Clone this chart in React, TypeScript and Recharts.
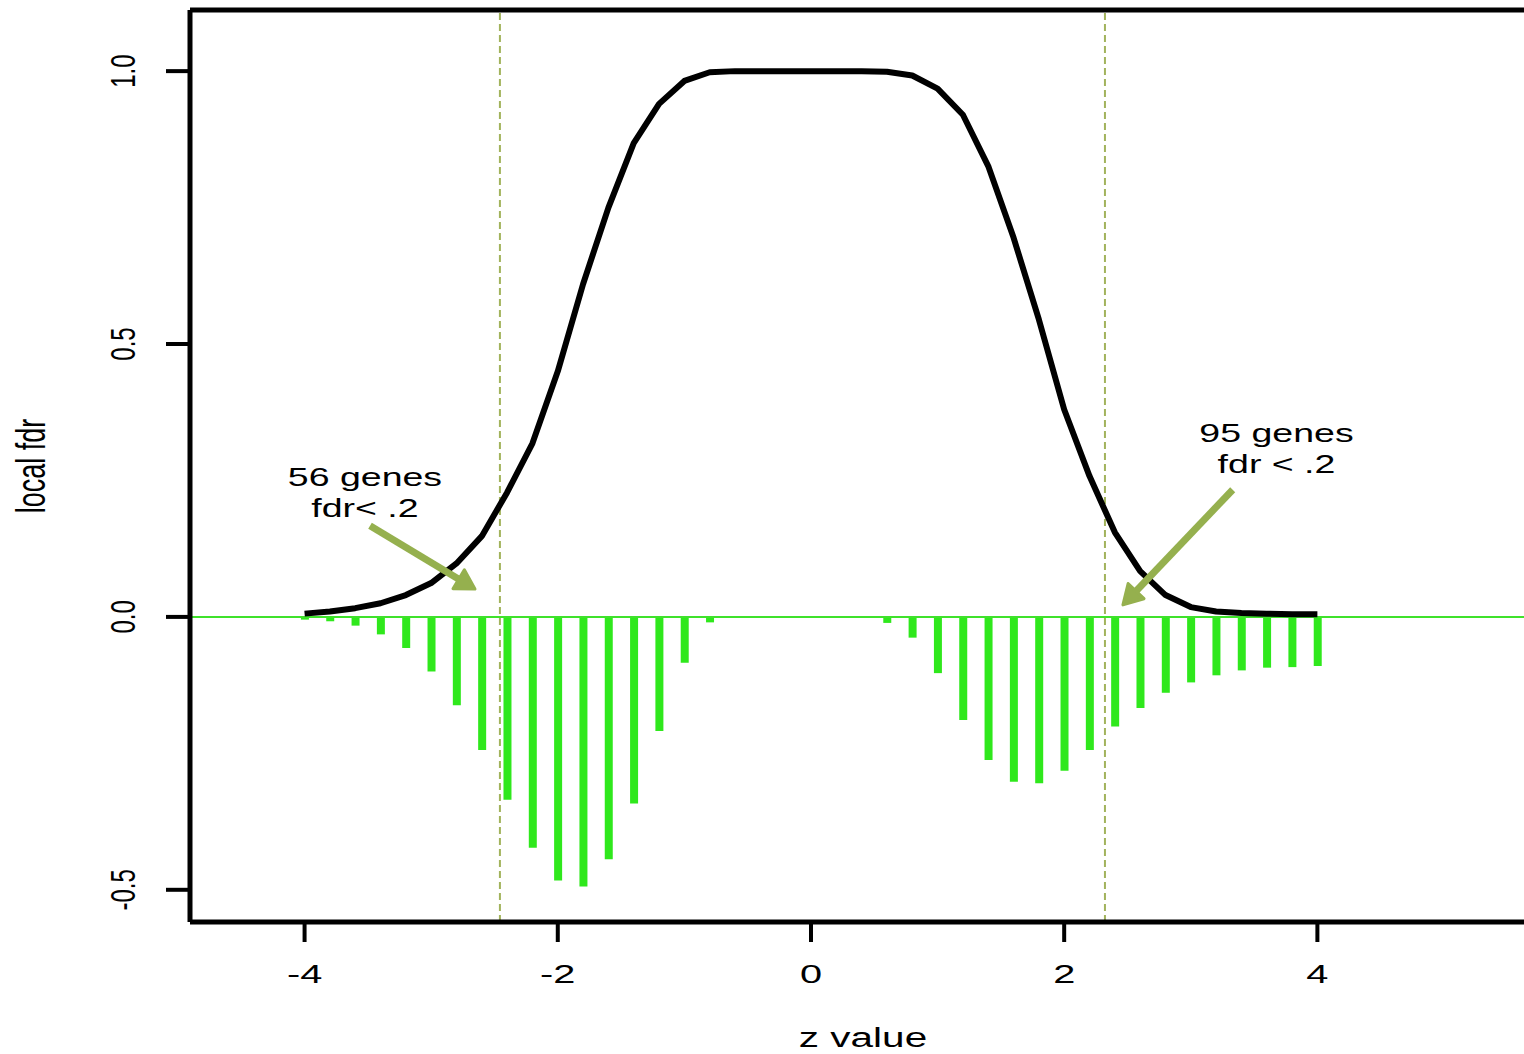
import React from 'react'
import { ComposedChart, Bar, Line, XAxis, YAxis, ReferenceLine, ReferenceDot } from 'recharts'

// z grid used by the fdr curve and the histogram
const zValues = [
  -4, -3.8, -3.6, -3.4, -3.2, -3, -2.8, -2.6, -2.4, -2.2, -2, -1.8, -1.6, -1.4, -1.2, -1, -0.8, -0.6, -0.4, -0.2,
  0, 0.2, 0.4, 0.6, 0.8, 1, 1.2, 1.4, 1.6, 1.8, 2, 2.2, 2.4, 2.6, 2.8, 3, 3.2, 3.4, 3.6, 3.8, 4,
]

const fdrValues = [
  0.006, 0.01, 0.016, 0.025, 0.04, 0.062, 0.098, 0.148, 0.228, 0.318, 0.45, 0.61, 0.75, 0.868, 0.94, 0.982, 0.998, 1, 1, 1,
  1, 1, 1, 0.999, 0.992, 0.968, 0.92, 0.826, 0.695, 0.545, 0.38, 0.258, 0.155, 0.084, 0.04, 0.018, 0.01, 0.007, 0.006, 0.005, 0.005,
]

// histogram of z values, drawn downward
const histValues = [
  -0.005, -0.008, -0.016, -0.032, -0.057, -0.1, -0.162, -0.244, -0.335, -0.423, -0.483, -0.494, -0.444, -0.342, -0.209, -0.084, -0.01, 0, 0, 0,
  0, 0, 0, -0.011, -0.038, -0.103, -0.189, -0.262, -0.302, -0.305, -0.282, -0.244, -0.201, -0.167, -0.139, -0.12, -0.107, -0.098, -0.093, -0.092, -0.09,
]

const cutoffs = [-2.457, 2.322]
const xTicks = [-4, -2, 0, 2, 4]
const yTicks = [-0.5, 0, 0.5, 1]
const yTickLabels = ['-0.5', '0.0', '0.5', '1.0']

const notes = [
  { lines: ['56 genes', 'fdr< .2'], z: -3.523, fdr: 0.24 },
  { lines: ['95 genes', 'fdr < .2'], z: 3.677, fdr: 0.321 },
]

const arrows = [
  { from: { x: -3.483, y: 0.167 }, to: { x: -2.654, y: 0.051 } },
  { from: { x: 3.331, y: 0.233 }, to: { x: 2.464, y: 0.022 } },
]

const X_DOMAIN = [-4.905, 5.632]
const Y_DOMAIN = [-0.559, 1.112]

const data = zValues.map((z, i) => ({ z, fdr: fdrValues[i], hist: histValues[i] }))

const FONT = '"Liberation Sans", Arial, Helvetica, sans-serif'
const OLIVE = '#95b04e'

// the original plot is squeezed sideways, so text is stretched horizontally
const Stretched = ({ x, y, size, rotate, children }: any) => (
  <text
    transform={`translate(${x},${y}) scale(1.5,1)${rotate ? ' rotate(-90)' : ''}`}
    textAnchor="middle"
    fontFamily={FONT}
    fontSize={size}
    fill="#000"
  >
    {children}
  </text>
)

const XTick = ({ x, y, payload }: any) => (
  <Stretched x={x} y={y + 39} size={26.5}>{String(payload.value)}</Stretched>
)

const YTick = ({ x, y, payload }: any) => (
  <Stretched x={x - 29} y={y} size={24} rotate>
    {yTickLabels[yTicks.indexOf(payload.value)]}
  </Stretched>
)

const YTitle = ({ viewBox }: any) => (
  <Stretched x={viewBox.x + 45} y={viewBox.y + viewBox.height / 2} size={27} rotate>local fdr</Stretched>
)

const XTitle = ({ viewBox }: any) => (
  <Stretched x={viewBox.x + viewBox.width / 2 + 6} y={viewBox.y + 125} size={27}>z value</Stretched>
)

const arrowShape = (props: any) => {
  const { x1, y1, x2, y2 } = props
  const ang = Math.atan2(y2 - y1, x2 - x1)
  const len = 22
  const spread = Math.PI / 6
  const a = [x2 - len * Math.cos(ang - spread), y2 - len * Math.sin(ang - spread)]
  const b = [x2 - len * Math.cos(ang + spread), y2 - len * Math.sin(ang + spread)]
  const sx = x2 - len * 0.7 * Math.cos(ang)
  const sy = y2 - len * 0.7 * Math.sin(ang)
  return (
    <g>
      <line x1={x1} y1={y1} x2={sx} y2={sy} stroke={OLIVE} strokeWidth={7} />
      <polygon points={`${x2},${y2} ${a[0]},${a[1]} ${b[0]},${b[1]}`} fill={OLIVE} stroke={OLIVE} strokeWidth={3} strokeLinejoin="round" />
    </g>
  )
}

export default function App() {
  return (
    <div style={{ position: 'absolute', left: 0, top: 0, background: '#fff' }}>
      <ComposedChart width={1524} height={1054} data={data} margin={{ top: 10, right: 0, bottom: 0, left: 0 }}>
        <XAxis
          type="number"
          dataKey="z"
          domain={X_DOMAIN}
          allowDataOverflow
          ticks={xTicks}
          interval={0}
          height={132}
          tickSize={20}
          axisLine={{ stroke: '#000', strokeWidth: 5 }}
          tickLine={{ stroke: '#000', strokeWidth: 4 }}
          tick={<XTick />}
          label={{ content: <XTitle /> }}
        />
        <YAxis
          type="number"
          domain={Y_DOMAIN}
          allowDataOverflow
          ticks={yTicks}
          interval={0}
          width={190}
          tickSize={24}
          axisLine={{ stroke: '#000', strokeWidth: 5 }}
          tickLine={{ stroke: '#000', strokeWidth: 4 }}
          tick={<YTick />}
          label={{ content: <YTitle /> }}
        />
        <ReferenceLine y={Y_DOMAIN[1]} stroke="#000" strokeWidth={5} />
        <Bar dataKey="hist" fill="#2fe81c" barSize={8} isAnimationActive={false} />
        <ReferenceLine y={0} stroke="#3fe22b" strokeWidth={2} />
        {cutoffs.map((c) => (
          <ReferenceLine key={c} x={c} stroke="#a2b35c" strokeWidth={2} strokeDasharray="7 4" />
        ))}
        <Line
          dataKey="fdr"
          type="linear"
          stroke="#000"
          strokeWidth={6}
          strokeLinejoin="round"
          dot={false}
          activeDot={false}
          isAnimationActive={false}
        />
        {arrows.map((a, i) => (
          <ReferenceLine key={'arrow' + i} segment={[a.from, a.to]} shape={arrowShape} />
        ))}
        {notes.map((n, i) => (
          <ReferenceDot
            key={'note' + i}
            x={n.z}
            y={n.fdr}
            r={0}
            shape={(p: any) => (
              <g>
                {n.lines.map((t, j) => (
                  <Stretched key={j} x={p.cx} y={p.cy + j * 31} size={25}>{t}</Stretched>
                ))}
              </g>
            )}
          />
        ))}
      </ComposedChart>
    </div>
  )
}
